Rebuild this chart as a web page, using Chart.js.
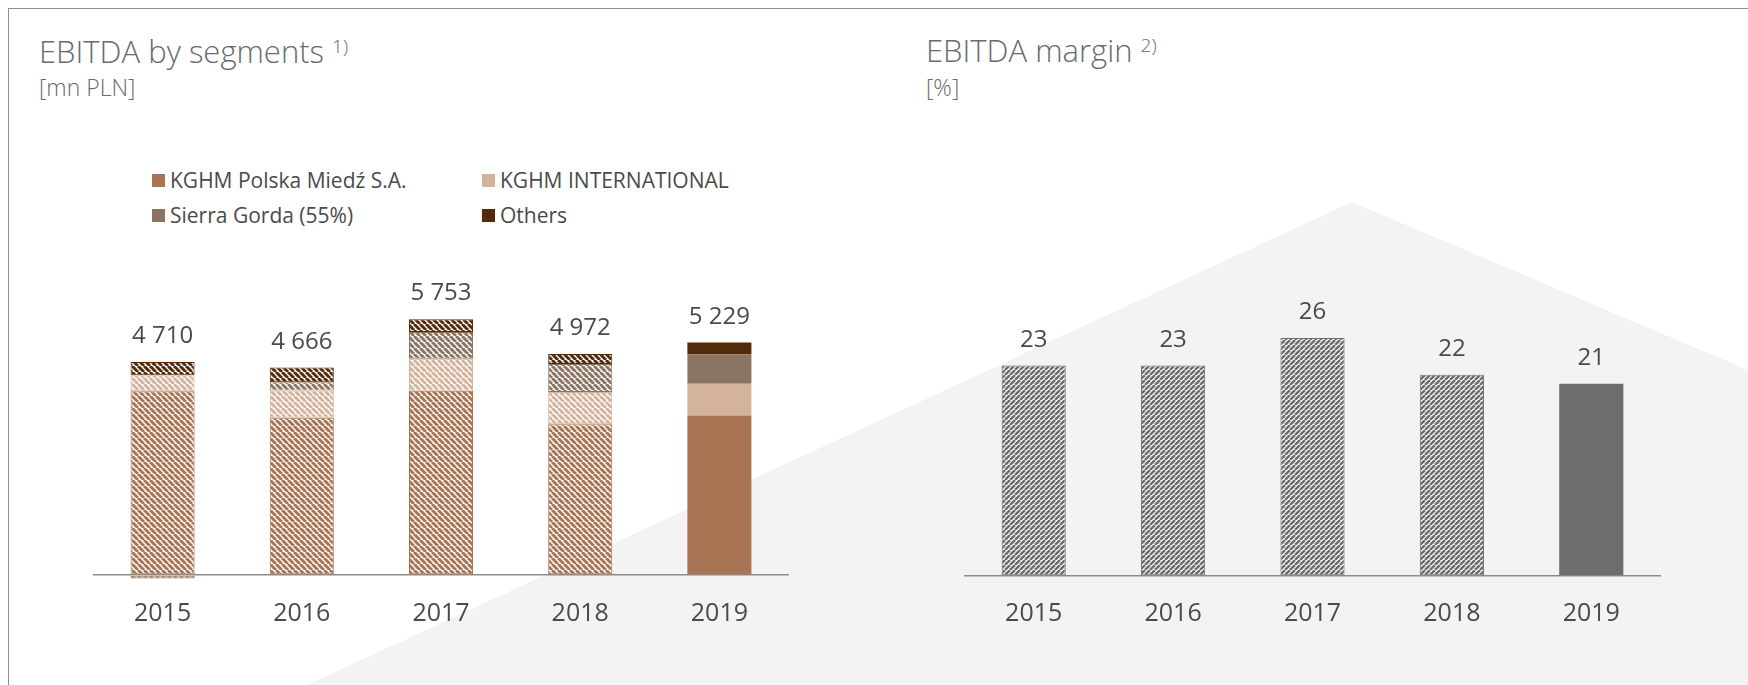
<!DOCTYPE html>
<html>
<head>
<meta charset="utf-8">
<script src="https://cdn.jsdelivr.net/npm/chart.js@4.4.1/dist/chart.umd.min.js"></script>
<style>
  html, body { margin: 0; padding: 0; background: #fff; }
  body { width: 1748px; height: 685px; position: relative; overflow: hidden; font-family: 'Open Sans', sans-serif; }
  #bg { position: absolute; left: 0; top: 0; width: 1748px; height: 685px; background: #f3f3f3;
        clip-path: polygon(307px 685px, 1352px 202px, 1748px 370px, 1748px 685px); }
  #frame { position: absolute; left: 8px; top: 8px; width: 1760px; height: 700px;
           border-top: 1px solid #8f8f8f; border-left: 1px solid #8f8f8f; }
  .title { position: absolute; font-size: 31px; line-height: 31px; font-weight: 300; color: #6a6a6a; white-space: nowrap; }
  .title .sup { font-size: 19px; position: relative; top: -10px; }
  .unit { position: absolute; font-size: 23px; line-height: 23px; font-weight: 300; color: #6a6a6a; white-space: nowrap; }
  #legend { position: absolute; left: 152px; top: 170px; display: grid; grid-template-columns: 330px auto;
            row-gap: 14px; font-size: 21px; line-height: 21px; color: #4a4a4a; }
  .item { display: flex; align-items: center; white-space: nowrap; }
  .sw { width: 13px; height: 13px; margin-right: 5px; }
  canvas { position: absolute; top: 0; }
</style>
</head>
<body>
<div id="bg"></div>
<div id="frame"></div>

<div class="title" style="left:39px; top:36px;">EBITDA by segments <span class="sup">1)</span></div>
<div class="unit" style="left:39px; top:76px;">[mn PLN]</div>
<div id="legend"></div>

<div class="title" style="left:926px; top:35px;">EBITDA margin <span class="sup">2)</span></div>
<div class="unit" style="left:926px; top:76px;">[%]</div>

<canvas id="segChart" width="880" height="685" style="left:0px"></canvas>
<canvas id="marginChart" width="868" height="685" style="left:880px"></canvas>

<script>
// data
const years = ['2015', '2016', '2017', '2018', '2019'];
const segmentNames = ['KGHM Polska Miedź S.A.', 'KGHM INTERNATIONAL', 'Sierra Gorda (55%)', 'Others'];
const kghmPM = [4136, 3537, 4145, 3394, 3590];
const kghmIntl = [357, 613, 718, 726, 711];
const sierraGorda = [-80, 187, 606, 628, 666];
const others = [297, 329, 284, 224, 262];
const ebitdaTotal = [4710, 4666, 5753, 4972, 5229];
const ebitdaMargin = [23, 23, 26, 22, 21];

// styles
const segmentColors = ['#a87453', '#d4b39c', '#8b7562', '#542b0a'];
const marginColor = '#6d6d6d';
const textColor = '#4a4a4a';

Chart.defaults.font.family = "'Open Sans', sans-serif";

function hatch(target, color, dir, size, lw) {
    let c = document.createElement('canvas');
    c.width = size;
    c.height = size;
    let g = c.getContext('2d');
    g.fillStyle = '#ffffff';
    g.fillRect(0, 0, size, size);
    g.strokeStyle = color;
    g.lineWidth = lw;
    g.beginPath();
    for (let k = -1; k <= 1; k++) {
        let o = k * size;
        if (dir === '\\') { g.moveTo(o, 0); g.lineTo(o + size, size); }
        else { g.moveTo(o, size); g.lineTo(o + size, 0); }
    }
    g.stroke();
    return target.createPattern(c, 'repeat');
}

function spaced(v) {
    return String(v).replace(/\B(?=(\d{3})+(?!\d))/g, ' ');
}

// labels drawn above the positive part of each stack
function topLabels(values) {
    return {
        id: 'topLabels',
        afterDatasetsDraw(chart) {
            let ctx = chart.ctx;
            let x = chart.scales.x, y = chart.scales.y;
            ctx.save();
            ctx.font = "24px 'Open Sans', sans-serif";
            ctx.fillStyle = textColor;
            ctx.textAlign = 'center';
            ctx.textBaseline = 'alphabetic';
            values.forEach((v, i) => {
                let top = 0;
                chart.data.datasets.forEach(ds => { if (ds.data[i] > 0) top += ds.data[i]; });
                ctx.fillText(spaced(v), x.getPixelForValue(i), y.getPixelForValue(top) - 19);
            });
            ctx.restore();
        }
    };
}

// legend
let legend = document.getElementById('legend');
segmentNames.forEach((name, i) => {
    let item = document.createElement('div');
    item.className = 'item';
    item.innerHTML = '<span class="sw" style="background:' + segmentColors[i] + '"></span>' + name;
    legend.appendChild(item);
});

let ctx = document.getElementById('segChart').getContext('2d');
let ctxtwo = document.getElementById('marginChart').getContext('2d');

let segSeries = [kghmPM, kghmIntl, sierraGorda, others];
let segDatasets = segSeries.map((values, s) => {
    let pat = hatch(ctx, segmentColors[s], '\\', 6, 3);
    return {
        label: segmentNames[s],
        data: values,
        backgroundColor: years.map((y, i) => i === years.length - 1 ? segmentColors[s] : pat),
        borderColor: segmentColors[s],
        borderWidth: years.map((y, i) => i === years.length - 1 ? 0 : 1),
        borderSkipped: false,
        categoryPercentage: 1,
        barPercentage: 0.46
    };
});

let zeroLineOnly = axis => { axis.ticks = [{ value: 0 }]; };

let chart_segments = new Chart(ctx, {
    type: 'bar',
    data: { labels: years, datasets: segDatasets },
    options: {
        responsive: false,
        animation: false,
        layout: { padding: { left: 93, right: 91, top: 219.5, bottom: 41.2 } },
        plugins: { legend: { display: false }, tooltip: { enabled: false } },
        scales: {
            x: {
                stacked: true,
                grid: { display: false, drawTicks: false },
                border: { display: false },
                ticks: { padding: 15, color: textColor, font: { size: 25 } }
            },
            y: {
                stacked: true,
                min: -200,
                max: 8000,
                afterBuildTicks: zeroLineOnly,
                grid: { color: '#8c8c8c', lineWidth: 1.5, drawTicks: false },
                border: { display: false },
                ticks: { display: false }
            }
        }
    },
    plugins: [topLabels(ebitdaTotal)]
});

let marginPat = hatch(ctxtwo, marginColor, '/', 5, 2.5);

let chart_margin = new Chart(ctxtwo, {
    type: 'bar',
    data: {
        labels: years,
        datasets: [{
            label: 'EBITDA margin',
            data: ebitdaMargin,
            backgroundColor: years.map((y, i) => i === years.length - 1 ? marginColor : marginPat),
            borderColor: marginColor,
            borderWidth: years.map((y, i) => i === years.length - 1 ? 0 : 1),
            borderSkipped: false,
            categoryPercentage: 1,
            barPercentage: 0.46
        }]
    },
    options: {
        responsive: false,
        animation: false,
        layout: { padding: { left: 84, right: 87, top: 210, bottom: 33 } },
        plugins: { legend: { display: false }, tooltip: { enabled: false } },
        scales: {
            x: {
                grid: { display: false, drawTicks: false },
                border: { display: false },
                ticks: { padding: 23, color: textColor, font: { size: 25 } }
            },
            y: {
                min: 0,
                max: 40,
                afterBuildTicks: zeroLineOnly,
                grid: { color: '#8c8c8c', lineWidth: 1.5, drawTicks: false },
                border: { display: false },
                ticks: { display: false }
            }
        }
    },
    plugins: [topLabels(ebitdaMargin)]
});
</script>
</body>
</html>
